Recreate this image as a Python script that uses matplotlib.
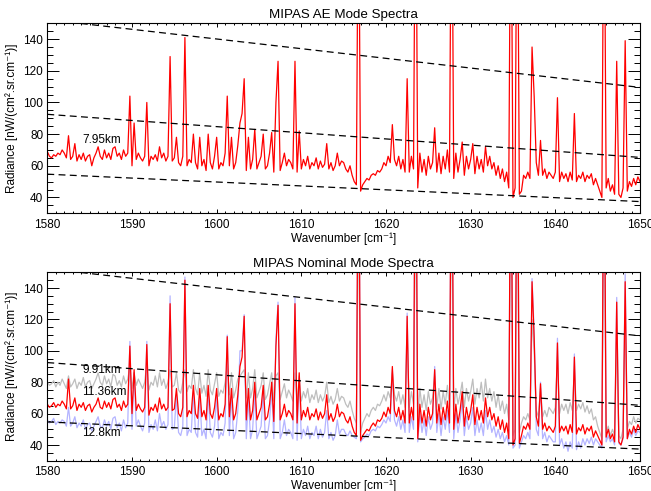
"""MIPAS AE / nominal mode spectra, 1580-1650 cm-1."""

import matplotlib

matplotlib.use("Agg")
import matplotlib.pyplot as plt
import numpy as np
from matplotlib.ticker import MultipleLocator

plt.rcParams["font.family"] = ["Liberation Sans", "DejaVu Sans"]
plt.rcParams["font.size"] = 8.5

# spectral sampling of the read-off values (cm-1)
wn_start, wn_stop, wn_step = 1580.0, 1650.0, 0.25

# AE mode, 7.95 km  [nW/(cm2.sr.cm-1)], one row per 5 cm-1
ae_795 = [
    69, 66, 65, 67, 66, 68, 67, 70, 68, 65, 79, 64, 66, 74, 63, 67, 64, 68, 63, 66,
    67, 60, 65, 68, 72, 66, 64, 70, 65, 68, 64, 71, 72, 66, 68, 64, 70, 66, 68, 104,
    60, 87, 64, 68, 65, 63, 66, 100, 60, 66, 64, 67, 63, 72, 65, 68, 63, 66, 129, 63,
    65, 78, 62, 60, 66, 141, 60, 64, 62, 80, 62, 58, 78, 60, 64, 57, 80, 62, 58, 66,
    78, 58, 62, 60, 68, 104, 60, 78, 58, 62, 73, 87, 93, 115, 57, 78, 58, 64, 83, 58,
    62, 66, 80, 58, 60, 68, 81, 56, 100, 126, 57, 62, 68, 60, 64, 62, 58, 126, 56, 82,
    58, 64, 60, 66, 58, 62, 60, 65, 58, 63, 59, 61, 74, 58, 62, 57, 60, 68, 60, 63,
    62, 58, 56, 60, 54, 50, 48, 260, 44, 48, 50, 52, 51, 54, 55, 54, 57, 56, 58, 62,
    60, 66, 62, 86, 64, 60, 66, 58, 64, 56, 115, 56, 66, 58, 280, 46, 68, 56, 64, 54,
    66, 58, 62, 84, 56, 68, 55, 66, 58, 70, 56, 280, 52, 68, 56, 64, 75, 54, 66, 58,
    64, 74, 55, 66, 58, 64, 56, 72, 60, 66, 58, 62, 54, 60, 52, 58, 50, 56, 46, 270,
    40, 46, 280, 42, 44, 54, 52, 56, 52, 135, 104, 62, 54, 76, 54, 58, 52, 56, 54, 52,
    56, 103, 50, 56, 52, 55, 50, 56, 51, 93, 50, 54, 52, 56, 50, 54, 52, 55, 48, 52,
    48, 44, 40, 270, 46, 52, 44, 48, 42, 126, 42, 40, 46, 139, 44, 50, 47, 52, 48, 53,
    50,
]

# nominal mode, 9.91 km
nom_991 = [
    80, 78, 79, 81, 77, 80, 78, 82, 79, 76, 84, 77, 79, 82, 76, 80, 78, 83, 77, 80,
    81, 76, 79, 82, 86, 80, 78, 84, 79, 82, 77, 85, 84, 78, 81, 77, 84, 79, 82, 90,
    76, 86, 78, 82, 79, 76, 80, 92, 75, 80, 78, 84, 77, 86, 78, 82, 76, 80, 88, 77,
    78, 86, 75, 73, 80, 88, 74, 78, 76, 88, 76, 72, 86, 73, 78, 71, 88, 75, 72, 79,
    86, 71, 75, 73, 80, 90, 72, 86, 70, 75, 82, 84, 86, 88, 70, 86, 70, 76, 88, 70,
    74, 78, 86, 69, 72, 79, 86, 68, 84, 86, 69, 74, 79, 70, 75, 72, 68, 86, 67, 82,
    68, 74, 70, 76, 67, 72, 69, 75, 67, 72, 68, 71, 80, 67, 71, 66, 69, 76, 68, 71,
    70, 66, 64, 68, 62, 57, 54, 200, 48, 54, 57, 60, 58, 62, 64, 62, 66, 65, 68, 72,
    68, 74, 70, 86, 72, 68, 74, 66, 72, 64, 110, 64, 74, 66, 200, 56, 76, 64, 72, 62,
    74, 66, 70, 84, 64, 76, 63, 74, 66, 78, 64, 200, 62, 76, 66, 72, 80, 64, 76, 68,
    74, 82, 66, 76, 70, 80, 68, 82, 70, 76, 68, 74, 64, 72, 62, 68, 60, 66, 56, 200,
    46, 50, 200, 48, 54, 58, 56, 60, 56, 120, 100, 62, 58, 76, 58, 62, 58, 64, 62, 60,
    64, 96, 60, 66, 62, 66, 60, 67, 62, 88, 62, 66, 63, 67, 61, 65, 60, 63, 56, 58,
    52, 48, 44, 200, 48, 52, 46, 50, 46, 110, 46, 44, 50, 120, 50, 55, 53, 58, 54, 57,
    56,
]

# nominal mode, 11.36 km
nom_1136 = [
    66, 64, 65, 67, 64, 66, 65, 68, 66, 63, 82, 63, 65, 70, 62, 66, 64, 67, 62, 65,
    66, 61, 64, 66, 70, 64, 63, 68, 64, 67, 63, 69, 70, 64, 66, 62, 68, 64, 66, 103,
    60, 88, 62, 66, 63, 61, 64, 104, 59, 64, 62, 66, 61, 70, 63, 66, 62, 64, 130, 62,
    63, 76, 60, 58, 64, 145, 58, 62, 60, 78, 60, 57, 76, 58, 62, 56, 78, 60, 57, 64,
    76, 56, 60, 58, 66, 109, 58, 76, 56, 60, 72, 90, 96, 122, 56, 76, 56, 62, 80, 56,
    60, 64, 78, 56, 58, 66, 80, 55, 103, 129, 56, 60, 66, 58, 62, 60, 56, 130, 54, 86,
    56, 62, 58, 64, 56, 60, 58, 63, 56, 61, 57, 60, 72, 56, 60, 55, 58, 66, 58, 61,
    60, 56, 54, 58, 52, 48, 46, 270, 43, 46, 48, 50, 49, 52, 54, 52, 56, 55, 57, 61,
    58, 64, 60, 90, 62, 58, 64, 56, 62, 54, 122, 54, 64, 56, 280, 44, 66, 54, 62, 52,
    64, 56, 60, 88, 54, 66, 53, 64, 56, 68, 54, 280, 50, 66, 54, 62, 74, 52, 64, 56,
    62, 72, 53, 64, 56, 62, 54, 70, 58, 64, 56, 60, 52, 58, 50, 56, 48, 54, 44, 270,
    40, 44, 280, 41, 46, 52, 50, 54, 50, 144, 108, 58, 52, 79, 50, 54, 49, 52, 50, 48,
    52, 105, 48, 52, 49, 52, 47, 53, 48, 96, 47, 51, 49, 53, 47, 51, 49, 52, 45, 49,
    46, 43, 40, 270, 45, 50, 44, 47, 42, 131, 42, 40, 45, 144, 44, 50, 47, 52, 48, 53,
    50,
]

# nominal mode, 12.8 km
nom_128 = [
    56, 54, 55, 57, 53, 55, 54, 56, 55, 52, 64, 52, 54, 58, 51, 54, 52, 56, 50, 53,
    54, 49, 52, 55, 58, 52, 51, 56, 52, 55, 50, 57, 58, 51, 54, 49, 56, 51, 54, 106,
    50, 86, 52, 56, 52, 49, 54, 106, 48, 53, 50, 56, 49, 60, 52, 55, 50, 53, 135, 50,
    51, 72, 48, 46, 52, 147, 46, 50, 48, 74, 48, 45, 72, 46, 50, 44, 74, 48, 45, 52,
    72, 44, 48, 46, 54, 110, 46, 72, 44, 48, 62, 100, 100, 123, 44, 70, 44, 50, 74, 44,
    48, 52, 74, 44, 46, 56, 76, 44, 107, 131, 44, 48, 56, 46, 50, 48, 44, 134, 43, 84,
    44, 50, 46, 52, 44, 48, 46, 52, 44, 50, 45, 48, 62, 44, 48, 43, 46, 56, 47, 50,
    50, 47, 46, 49, 46, 45, 44, 270, 42, 44, 45, 47, 46, 49, 50, 49, 52, 51, 53, 56,
    54, 58, 55, 88, 56, 52, 58, 50, 56, 48, 124, 48, 58, 50, 280, 42, 60, 48, 56, 46,
    58, 50, 54, 90, 48, 60, 46, 58, 50, 62, 48, 280, 44, 60, 48, 56, 68, 46, 58, 50,
    54, 64, 46, 56, 48, 54, 46, 62, 50, 56, 48, 52, 45, 50, 44, 48, 42, 46, 40, 270,
    38, 40, 280, 38, 42, 46, 44, 48, 44, 146, 112, 50, 46, 80, 44, 48, 42, 46, 44, 42,
    42, 108, 40, 44, 38, 42, 36, 42, 38, 98, 37, 42, 38, 44, 40, 44, 41, 45, 40, 44,
    42, 40, 38, 270, 42, 46, 42, 44, 40, 134, 41, 40, 44, 149, 44, 48, 45, 50, 46, 49,
    48,
]

# dashed guide lines (end points at 1580 and 1650)
guide_wn = [1580, 1650]
guide_upper = [152.3, 109.5]
guide_middle = [92.5, 65.3]
guide_lower = [54.7, 37.4]

wn = np.arange(wn_start, wn_stop + wn_step / 2, wn_step)
for series in (ae_795, nom_991, nom_1136, nom_128):
    assert len(series) == len(wn)

RED = "#ff0000"
GREY = "#bebebe"
BLUE = "#b4b4ff"


def style_axes(ax, title):
    ax.set_xlim(1580, 1650)
    ax.set_ylim(30, 150)
    ax.xaxis.set_major_locator(MultipleLocator(10))
    ax.xaxis.set_minor_locator(MultipleLocator(1))
    ax.yaxis.set_major_locator(MultipleLocator(20))
    ax.yaxis.set_minor_locator(MultipleLocator(5))
    ax.tick_params(which="both", direction="in", top=True, right=True, width=0.7)
    ax.tick_params(axis="x", which="major", length=2.8, pad=4)
    ax.tick_params(axis="x", which="minor", length=1.4)
    ax.tick_params(axis="y", which="major", length=8.5, pad=3)
    ax.tick_params(axis="y", which="minor", length=4.3)
    for spine in ax.spines.values():
        spine.set_linewidth(0.8)
    ax.set_title(title, fontsize=9.6, pad=3.5)
    ax.set_xlabel("Wavenumber [cm\u207b\u00b9]", labelpad=1)
    ax.set_ylabel("Radiance [nW/(cm\u00b2.sr.cm\u207b\u00b9)]", labelpad=4)
    for guide in (guide_upper, guide_middle, guide_lower):
        ax.plot(guide_wn, guide, color="black", lw=0.9, dashes=(5.5, 3.5), zorder=5)


fig = plt.figure(figsize=(6.51, 4.91), dpi=100)
ax1 = fig.add_axes([0.0727, 0.5656, 0.9104, 0.387])
ax2 = fig.add_axes([0.0727, 0.0617, 0.9104, 0.3837])

ax1.plot(wn, ae_795, color=RED, lw=0.9)
ax1.text(1584.1, 76.5, "7.95km", va="center", ha="left")
style_axes(ax1, "MIPAS AE Mode Spectra")

ax2.plot(wn, nom_991, color=GREY, lw=0.9)
ax2.plot(wn, nom_128, color=BLUE, lw=0.9)
ax2.plot(wn, nom_1136, color=RED, lw=0.9)
ax2.text(1584.1, 87.5, "9.91km", va="center", ha="left", zorder=6)
ax2.text(1584.1, 73.8, "11.36km", va="center", ha="left", zorder=6)
ax2.text(1584.1, 47.4, "12.8km", va="center", ha="left", zorder=6)
style_axes(ax2, "MIPAS Nominal Mode Spectra")

fig.savefig("out.png", dpi=100)
plt.close(fig)
